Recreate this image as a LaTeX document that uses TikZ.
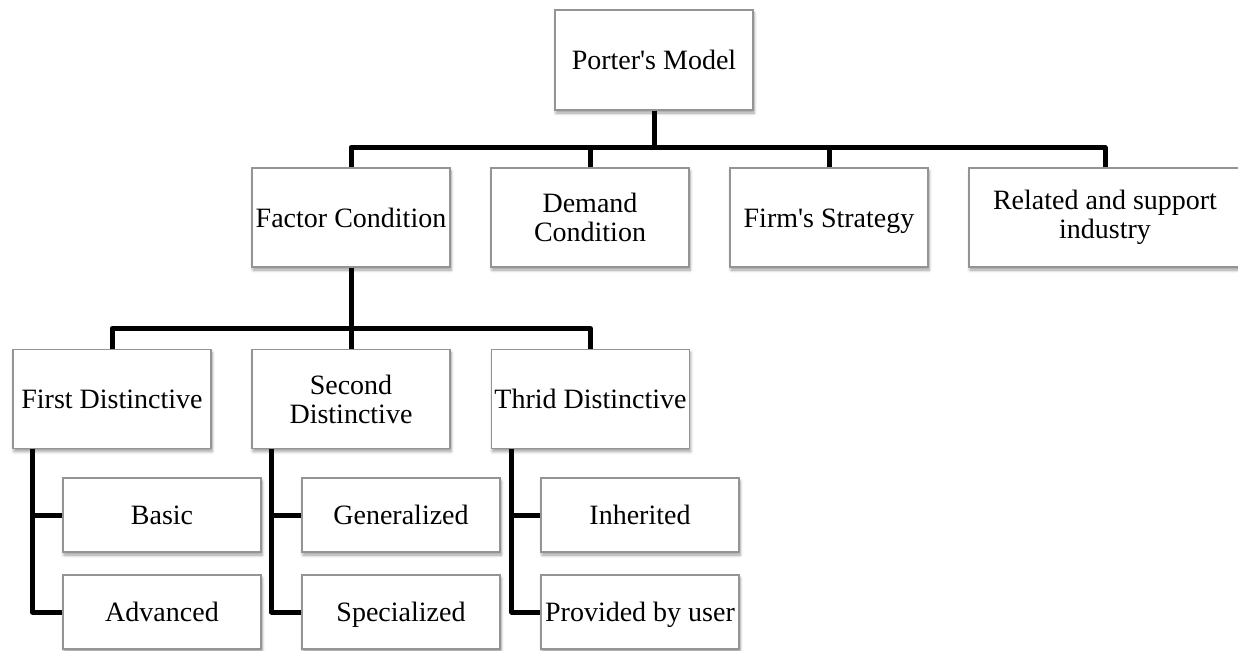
\documentclass[tikz,border=0pt]{standalone}
\usepackage{fontspec}
\setmainfont{Liberation Serif}[Ligatures=TeXOff]
\usetikzlibrary{shadows.blur}
\begin{document}
\begin{tikzpicture}[x=1pt,y=-1pt,
  box/.style={draw=black!42, line width=1.1pt, fill=white, align=center,
    font=\fontsize{28}{29}\selectfont, inner sep=0pt,
    blur shadow={shadow xshift=1pt, shadow yshift=-3pt, shadow blur steps=6,
      shadow blur radius=3pt, shadow opacity=40}},
  bigbox/.style={box, minimum width=198pt, minimum height=99pt},
  leafbox/.style={box, minimum width=198pt, minimum height=74pt},
  oneline/.style={text height=20pt, text depth=1pt},
  link/.style={line width=5pt, line join=round}]
\useasboundingbox (0,0) rectangle (1238,650);

% root
\node[box, minimum width=198pt, minimum height=100pt, oneline] (porter) at (654,60) {Porter's Model};

% first level
\node[bigbox, oneline] (factor) at (351,217.5) {Factor Condition};
\node[bigbox] (demand) at (590,217.5) {Demand\\Condition};
\node[bigbox, oneline] (firm) at (829,217.5) {Firm's Strategy};
\node[box, minimum width=272pt, minimum height=99pt] (related) at (1105,217.5) {Related and support\\industry};

% second level
\node[bigbox, oneline] (first) at (112,399) {First Distinctive};
\node[bigbox] (second) at (351,399) {Second\\Distinctive};
\node[bigbox, oneline] (third) at (590.5,399) {Thrid Distinctive};

% leaves
\node[leafbox, oneline] (basic) at (162,515) {Basic};
\node[leafbox, oneline] (advanced) at (162,612) {Advanced};
\node[leafbox, oneline] (general) at (401,515) {Generalized};
\node[leafbox, oneline] (special) at (401,612) {Specialized};
\node[leafbox, oneline] (inherit) at (640,515) {Inherited};
\node[leafbox, oneline] (provided) at (640,612) {Provided by user};

% bus points
\coordinate (bus1) at ([yshift=-37pt]porter.south);
\coordinate (bus2) at ([yshift=-61pt]factor.south);

% connectors, root to first level
\draw[link] (porter.south) -- (bus1);
\draw[link] (factor.north) |- (bus1);
\draw[link] (demand.north) |- (bus1);
\draw[link] (firm.north) |- (bus1);
\draw[link] (related.north) |- (bus1);

% connectors, factor condition to its three kinds
\draw[link] (factor.south) -- (bus2);
\draw[link] (first.north) |- (bus2);
\draw[link] (second.north) -- (bus2);
\draw[link] (third.north) |- (bus2);

% connectors to the leaves
\draw[link] ([xshift=20pt]first.south west) |- (advanced.west);
\draw[link] ([xshift=20pt]first.south west) |- (basic.west);
\draw[link] ([xshift=20pt]second.south west) |- (special.west);
\draw[link] ([xshift=20pt]second.south west) |- (general.west);
\draw[link] ([xshift=21pt]third.south west) |- (provided.west);
\draw[link] ([xshift=21pt]third.south west) |- (inherit.west);
\end{tikzpicture}
\end{document}
